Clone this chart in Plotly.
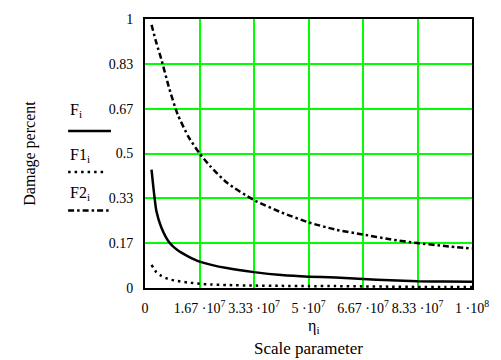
import plotly.graph_objects as go

# Scale parameter (eta), in units of 1e7
eta_e7 = [0.2, 0.35, 0.5, 0.75, 1.0, 1.33, 1.67, 2.0, 2.5, 3.33, 4.17, 5.0, 5.83, 6.67, 7.5, 8.33, 9.17, 10.0]
F_vals = [0.44, 0.285, 0.225, 0.168, 0.14, 0.117, 0.098, 0.087, 0.074, 0.059, 0.048, 0.042, 0.039, 0.033, 0.029, 0.025, 0.024, 0.023]
F1_vals = [0.086, 0.058, 0.045, 0.032, 0.026, 0.020, 0.016, 0.013, 0.011, 0.009, 0.008, 0.007, 0.007, 0.006, 0.005, 0.004, 0.004, 0.004]
F2_vals = [0.978, 0.91, 0.85, 0.738, 0.645, 0.562, 0.5, 0.452, 0.392, 0.327, 0.281, 0.244, 0.217, 0.199, 0.181, 0.167, 0.156, 0.147]

x_tickvals = [0, 1e8 / 6, 2e8 / 6, 3e8 / 6, 4e8 / 6, 5e8 / 6, 1e8]
x_ticktext = ["0", "1.67 \u00b710<sup>7</sup>", "3.33 \u00b710<sup>7</sup>", "5 \u00b710<sup>7</sup>",
              "6.67 \u00b710<sup>7</sup>", "8.33 \u00b710<sup>7</sup>", "1 \u00b710<sup>8</sup>"]
y_tickvals = [0, 1 / 6, 2 / 6, 0.5, 4 / 6, 5 / 6, 1]
y_ticktext = ["0", "0.17", "0.33", "0.5", "0.67", "0.83", "1"]

eta = [v * 1e7 for v in eta_e7]

FONT = "Liberation Serif"
W, H = 501, 360
L, R, T, B = 145, 20, 12, 72
pw, ph = W - L - R, H - T - B

def px(x):
    return (x - L) / pw

def py(y):
    return (H - B - y) / ph

DOT = "2.5px,4px"
DASHDOT = "6px,3px,2.5px,3px"
GRID = "#00ff00"

fig = go.Figure()
fig.add_trace(go.Scatter(x=eta, y=F_vals, mode="lines",
                         line=dict(color="black", width=2.5, shape="spline", smoothing=0.6), name="F"))
fig.add_trace(go.Scatter(x=eta, y=F1_vals, mode="lines",
                         line=dict(color="black", width=2.5, dash=DOT, shape="spline", smoothing=0.6), name="F1"))
fig.add_trace(go.Scatter(x=eta, y=F2_vals, mode="lines",
                         line=dict(color="black", width=2.5, dash=DASHDOT, shape="spline", smoothing=0.6), name="F2"))

fig.update_layout(
    width=W, height=H,
    margin=dict(l=L, r=R, t=T, b=B),
    paper_bgcolor="white", plot_bgcolor="white",
    showlegend=False,
    font=dict(family=FONT, size=14, color="black"),
)
fig.update_xaxes(range=[0, 1e8], tickvals=x_tickvals, ticktext=x_ticktext,
                 showgrid=True, gridcolor=GRID, gridwidth=1.5,
                 showline=True, linecolor="black", linewidth=2, mirror=True,
                 ticks="", ticklabelstandoff=6, zeroline=False,
                 tickfont=dict(family=FONT, size=14, color="black"))
fig.update_yaxes(range=[0, 1], tickvals=y_tickvals, ticktext=y_ticktext,
                 showgrid=True, gridcolor=GRID, gridwidth=1.5,
                 showline=True, linecolor="black", linewidth=2, mirror=True,
                 ticks="", ticklabelstandoff=7, zeroline=False,
                 tickfont=dict(family=FONT, size=14, color="black"))

ann = [
    dict(text="Damage percent", x=px(26), y=py(150), textangle=-90, font=dict(size=16)),
    dict(text="F<sub>i</sub>", x=px(66), y=py(106), xanchor="left", font=dict(size=16)),
    dict(text="F1<sub>i</sub>", x=px(66), y=py(152), xanchor="left", font=dict(size=16)),
    dict(text="F2<sub>i</sub>", x=px(66), y=py(191), xanchor="left", font=dict(size=16)),
    dict(text="\u03b7<sub>i</sub>", x=px(318), y=py(328), font=dict(size=16), borderpad=0),
    dict(text="Scale parameter", x=px(313), y=py(350), font=dict(size=17), borderpad=0),
]
for a in ann:
    a.update(xref="paper", yref="paper", showarrow=False)
    if "xanchor" not in a:
        a["xanchor"] = "center"
    a["yanchor"] = "middle"
    fig.add_annotation(**a)

shapes = [
    (127, "solid", 66, 110),
    (169, DOT, 66, 104),
    (208.5, DASHDOT, 66, 110),
]
for y, d, x0, x1 in shapes:
    fig.add_shape(type="line", xref="paper", yref="paper",
                  x0=px(x0), x1=px(x1), y0=py(y), y1=py(y),
                  line=dict(color="black", width=2.5, dash=d))

fig.write_html("out.html")
